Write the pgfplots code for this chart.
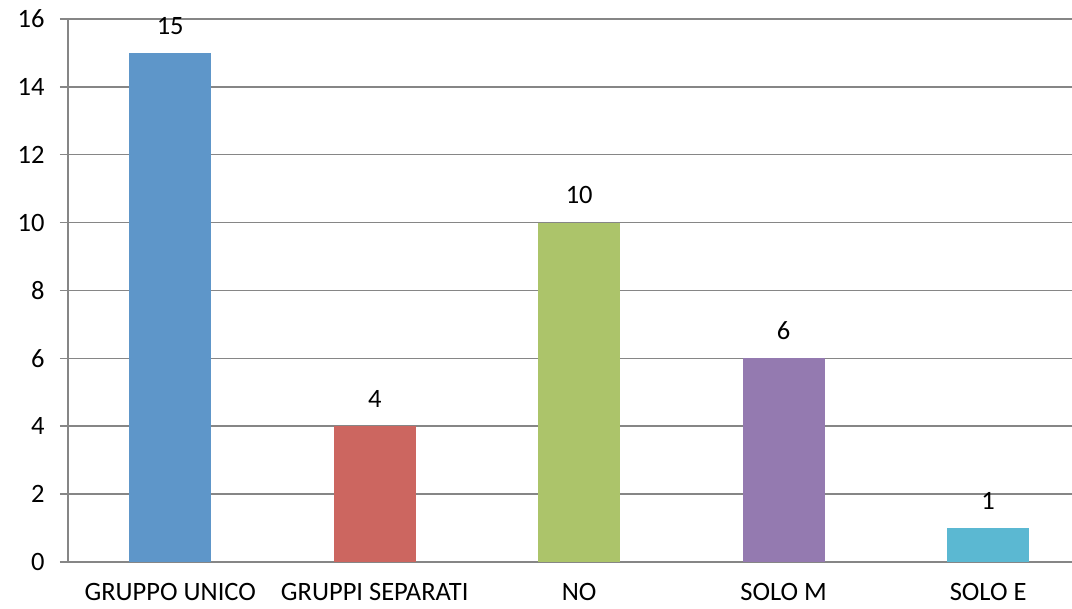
\documentclass[border=0pt]{standalone}
\usepackage{pgfplots}
\pgfplotsset{compat=1.18}
\usepackage{fontspec}
\setmainfont{Carlito}
\usetikzlibrary{calc}
\definecolor{cblue}{RGB}{94,150,201}
\definecolor{cred}{RGB}{204,102,96}
\definecolor{cgreen}{RGB}{172,196,106}
\definecolor{cpurple}{RGB}{148,122,176}
\definecolor{ccyan}{RGB}{91,184,210}
\definecolor{gridgray}{RGB}{134,134,134}
\begin{document}
\begin{tikzpicture}
\begin{axis}[name=ax,
  scale only axis, width=1004pt, height=543pt,
  xmin=-0.5, xmax=4.41, ymin=0, ymax=16,
  axis x line=bottom, axis y line=left,
  axis line style={-, draw=gridgray, line width=1.5pt},
  ytick={0,2,...,16},
  ymajorgrids, grid style={gridgray, line width=1.5pt},
  xtick={0,1,2,3,4},
  xticklabels={GRUPPO UNICO,GRUPPI SEPARATI,NO,SOLO M,SOLO E},
  major x tick style={draw=none},
  extra x ticks={-0.5,0.5,1.5,2.5,3.5},
  extra x tick labels={},
  extra x tick style={major tick length=8pt, tick align=outside, tick style={draw=gridgray, line width=1.5pt}, grid=none},
  ytick style={draw=gridgray, line width=1.5pt},
  major tick length=8pt, tick align=outside,
  tick label style={font=\fontsize{26.5}{30}\selectfont, text=black},
  /pgf/number format/assume math mode=true,
  xticklabel style={yshift=-12pt, inner sep=1pt},
  yticklabel style={xshift=-12pt},
  ybar, bar width=0.4, bar shift=0pt,
  nodes near coords,
  nodes near coords style={font=\fontsize{26.5}{30}\selectfont, text=black, yshift=15pt},
  clip=false,
]
\addplot[fill=cblue, draw=none] coordinates {(0,15)};
\addplot[fill=cred, draw=none] coordinates {(1,4)};
\addplot[fill=cgreen, draw=none] coordinates {(2,10)};
\addplot[fill=cpurple, draw=none] coordinates {(3,6)};
\addplot[fill=ccyan, draw=none] coordinates {(4,1)};
\end{axis}
\pgfresetboundingbox
\path[use as bounding box] ($(ax.south west)+(-68pt,-47pt)$) rectangle ($(ax.north east)+(0pt,19pt)$);
\end{tikzpicture}
\end{document}
